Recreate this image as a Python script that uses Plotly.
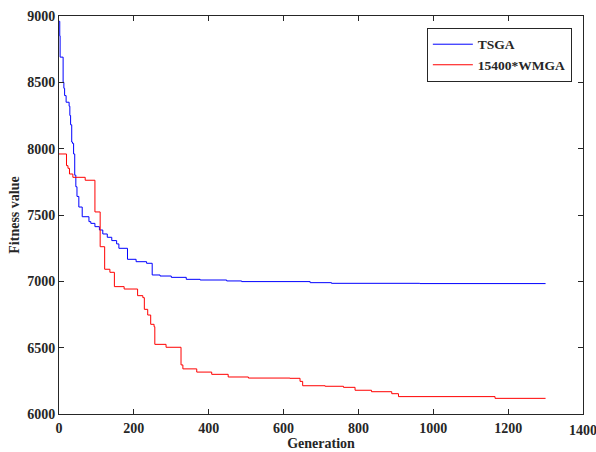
import plotly.graph_objects as go

tsga_gen = [0, 2, 3, 11, 13, 15, 19, 27, 29, 31, 34, 36, 39, 42, 45, 48, 53, 62, 80, 85, 96, 108,
            117, 129, 141, 154, 160, 183, 206, 234, 249, 270, 300, 340, 377, 448, 488, 671, 728, 964, 1300]
tsga_val = [8960, 8850, 8690, 8500, 8455, 8400, 8350, 8320, 8250, 8180, 8050, 8040, 7960, 7800, 7713,
            7640, 7560, 7487, 7450, 7437, 7412, 7387, 7357, 7332, 7307, 7282, 7249, 7166, 7148, 7136,
            7048, 7040, 7030, 7015, 7010, 7003, 6998, 6990, 6985, 6983, 6983]

wmga_gen = [0, 20, 24, 28, 37, 70, 96, 110, 122, 136, 148, 174, 210, 224, 228, 237, 245, 254, 256,
            286, 326, 331, 368, 408, 452, 506, 617, 644, 651, 711, 760, 791, 835, 889, 907, 1165, 1300]
wmga_val = [7960, 7872, 7852, 7809, 7784, 7762, 7523, 7261, 7091, 7068, 6960, 6942, 6892, 6877, 6789,
            6746, 6676, 6658, 6525, 6503, 6370, 6340, 6316, 6299, 6279, 6271, 6269, 6246, 6213, 6209,
            6201, 6179, 6168, 6153, 6131, 6118, 6118]

x_ticks = [0, 200, 400, 600, 800, 1000, 1200, 1400]
x_labels = ["0", "200", "400", "600", "800", "1000", "1200", ""]
x_last_label = "1400"
y_ticks = [6000, 6500, 7000, 7500, 8000, 8500, 9000]

FONT = "Liberation Serif, Times New Roman, serif"
TXT = "#262626"

fig = go.Figure()
fig.add_trace(go.Scatter(x=tsga_gen, y=tsga_val, mode="lines", name="TSGA",
                         line=dict(color="#0000ff", width=1, shape="hv")))
fig.add_trace(go.Scatter(x=wmga_gen, y=wmga_val, mode="lines", name="15400*WMGA",
                         line=dict(color="#ff0000", width=1, shape="hv")))

axis_common = dict(showgrid=False, zeroline=False, showline=True, linecolor=TXT, linewidth=1,
                   mirror="allticks", ticks="inside", ticklen=5, tickcolor=TXT, automargin=False,
                   tickfont=dict(family=FONT, size=14, color=TXT, weight="bold"))

fig.update_xaxes(range=[0, 1400], tickvals=x_ticks, ticktext=x_labels, ticklabelstandoff=1,
                 title=dict(text="Generation", font=dict(family=FONT, size=14, color=TXT, weight="bold"),
                            standoff=0),
                 **axis_common)
fig.update_yaxes(range=[6000, 9000], tickvals=y_ticks,
                 title=dict(text="Fitness value", font=dict(family=FONT, size=14, color=TXT, weight="bold"),
                            standoff=4),
                 **axis_common)

# last x tick label (it overflows the figure edge, as in the original)
fig.add_annotation(x=x_ticks[-1], xref="x", y=0, yref="paper", text=x_last_label,
                   showarrow=False, xanchor="center", yanchor="top", yshift=-7,
                   font=dict(family=FONT, size=14, color=TXT, weight="bold"))

fig.update_layout(
    width=596, height=452,
    margin=dict(l=59, r=13, t=16, b=38),
    plot_bgcolor="white", paper_bgcolor="white",
    showlegend=True,
    legend=dict(x=0.702, y=0.97, xanchor="left", yanchor="top",
                bgcolor="white", bordercolor=TXT, borderwidth=1,
                font=dict(family=FONT, size=13.5, color=TXT, weight="bold"),
                tracegroupgap=0, itemwidth=40),
)

fig.write_html("out.html")
